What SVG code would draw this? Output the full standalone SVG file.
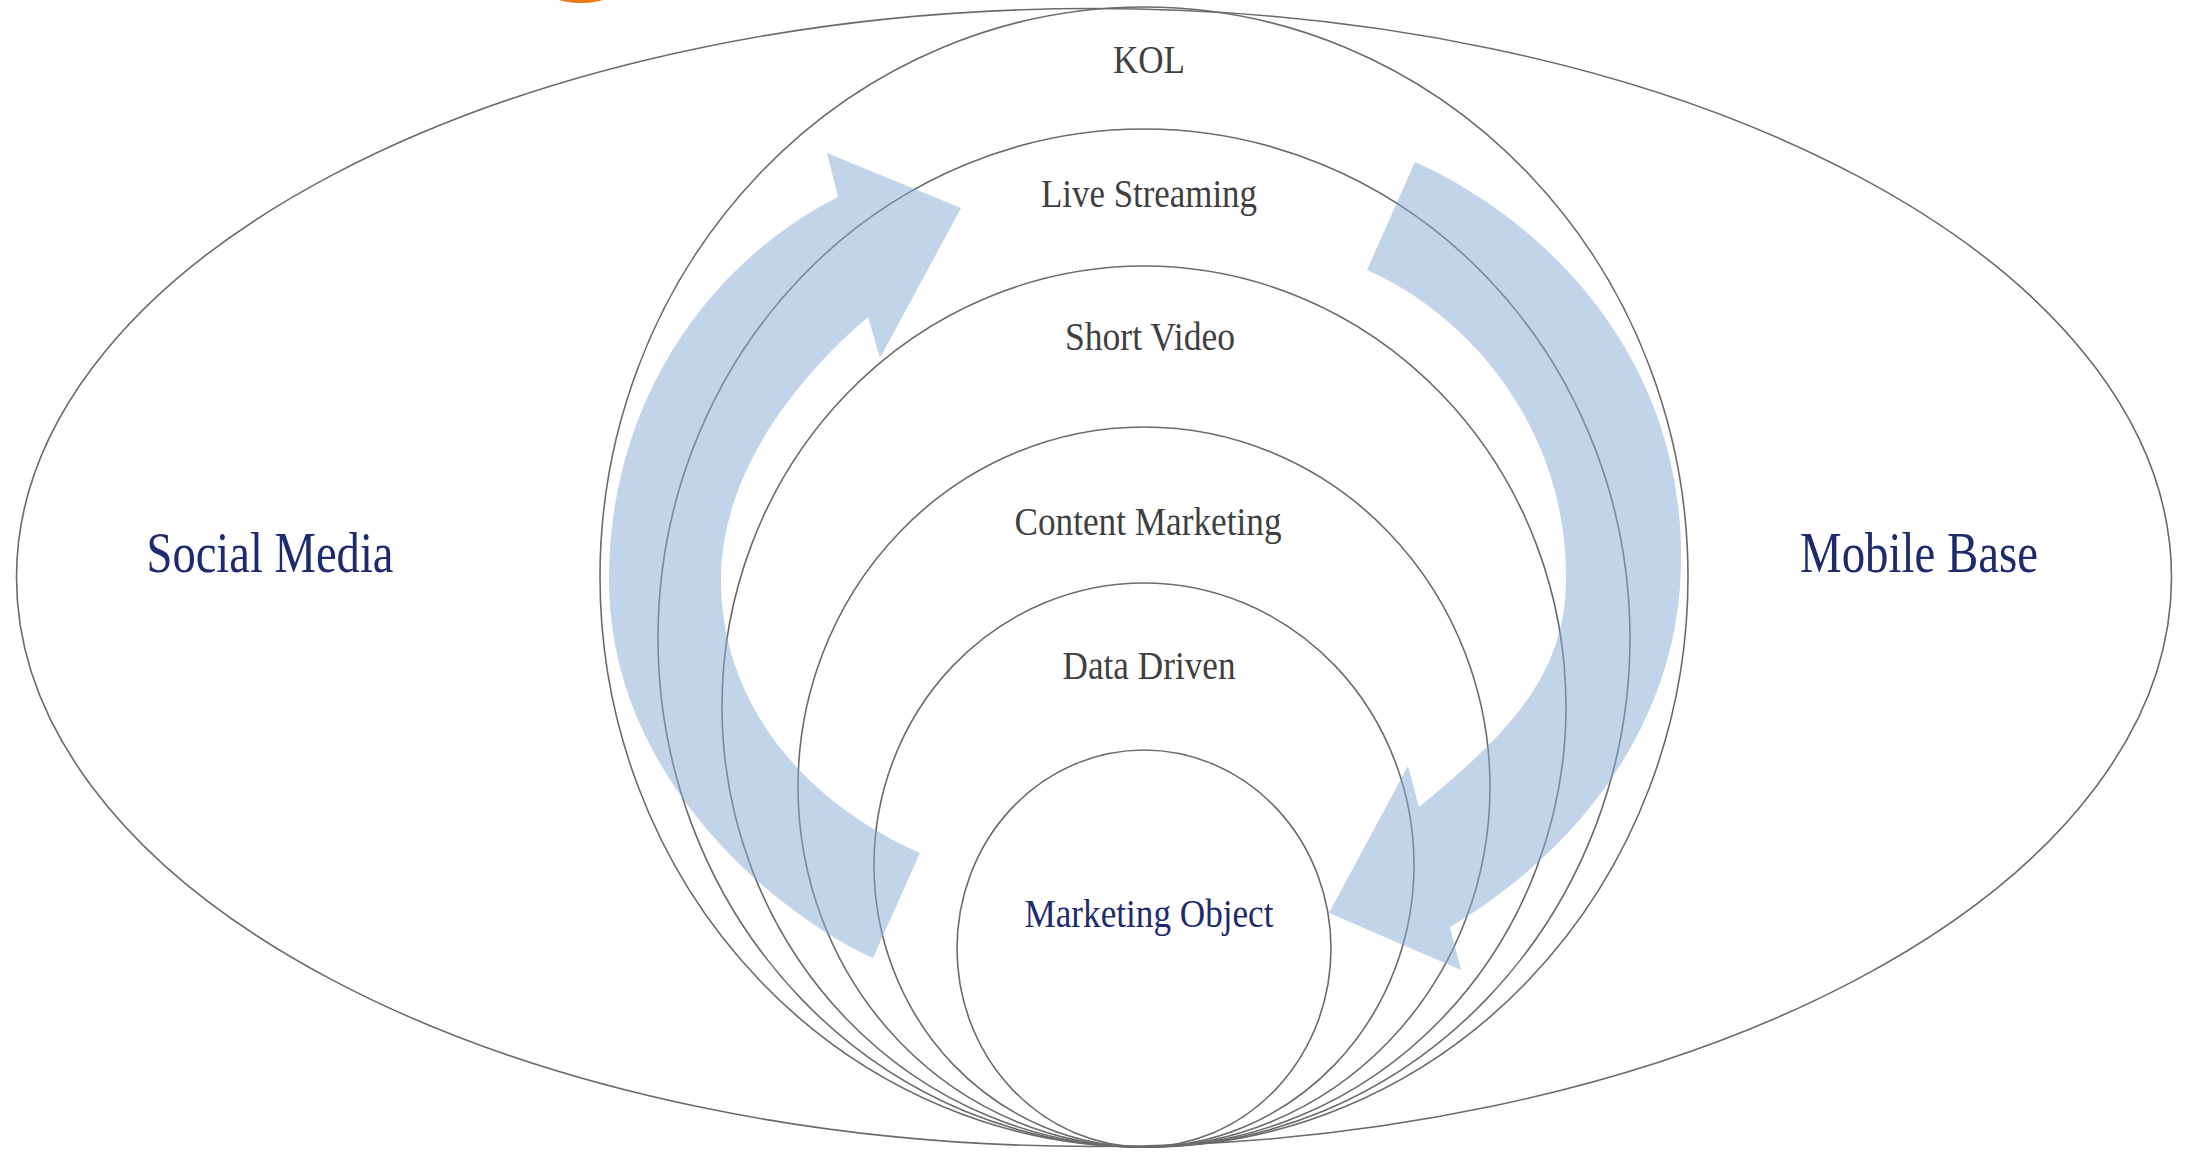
<svg xmlns="http://www.w3.org/2000/svg" width="2187" height="1152" viewBox="0 0 2187 1152">
<style>
.ring{fill:none;stroke:#6b6b6b;stroke-width:1.6}
.lbl{font-family:"Liberation Serif","Times New Roman",serif;font-size:40px;fill:#3f3f3f;text-anchor:middle}
.big{font-family:"Liberation Serif","Times New Roman",serif;font-size:56px;fill:#1d2b6e;text-anchor:middle}
.navy{fill:#1d2b6e}
.flow{fill:#83a9d3;fill-opacity:0.5;stroke:none}
</style>
<rect x="0" y="0" width="2187" height="1152" fill="#ffffff"/>
<circle cx="581" cy="-80" r="83" fill="#ec7a12"/>
<g id="mobile-social">
<ellipse class="ring" cx="1094" cy="577.5" rx="1077.5" ry="569"/>
<text class="big" x="270" y="572" textLength="247" lengthAdjust="spacingAndGlyphs">Social Media</text>
<text class="big" x="1919" y="572" textLength="238" lengthAdjust="spacingAndGlyphs">Mobile Base</text>
</g>
<g id="kol">
<ellipse class="ring" cx="1144" cy="577" rx="544" ry="570"/>
<text class="lbl" x="1149" y="73" textLength="72" lengthAdjust="spacingAndGlyphs">KOL</text>
</g>
<g id="live-streaming">
<ellipse class="ring" cx="1144" cy="638" rx="486" ry="509"/>
<text class="lbl" x="1149" y="207" textLength="216" lengthAdjust="spacingAndGlyphs">Live Streaming</text>
</g>
<g id="short-video">
<ellipse class="ring" cx="1144" cy="706.5" rx="422" ry="440.5"/>
<text class="lbl" x="1150" y="350" textLength="170" lengthAdjust="spacingAndGlyphs">Short Video</text>
</g>
<g id="content-marketing">
<ellipse class="ring" cx="1144" cy="787" rx="346" ry="360"/>
<text class="lbl" x="1148" y="535" textLength="267" lengthAdjust="spacingAndGlyphs">Content Marketing</text>
</g>
<g id="data-driven">
<ellipse class="ring" cx="1144" cy="865" rx="270" ry="282"/>
<text class="lbl" x="1149" y="679" textLength="173" lengthAdjust="spacingAndGlyphs">Data Driven</text>
</g>
<g id="marketing-object">
<ellipse class="ring" cx="1144" cy="948.5" rx="187" ry="198.5"/>
<text class="lbl navy" x="1149" y="927" textLength="249" lengthAdjust="spacingAndGlyphs">Marketing Object</text>
</g>
<g id="connectors">
<path class="flow" d="M873,958 C780,916 609,780 609,580 C609,400 710,262 838,197 L827,153 L961,208 L880,358 L868,317 C800,375 721,470 721,580 C721,700 800,800 920,853 Z"/>
<path class="flow" d="M1415,162 C1530,213 1684,345 1681,562 C1680,720 1580,850 1450,927 L1461,970 L1329,913 L1408,766 L1419,807 C1500,740 1566,680 1566,580 C1568,440 1480,320 1367,270 Z"/>
</g>
</svg>
